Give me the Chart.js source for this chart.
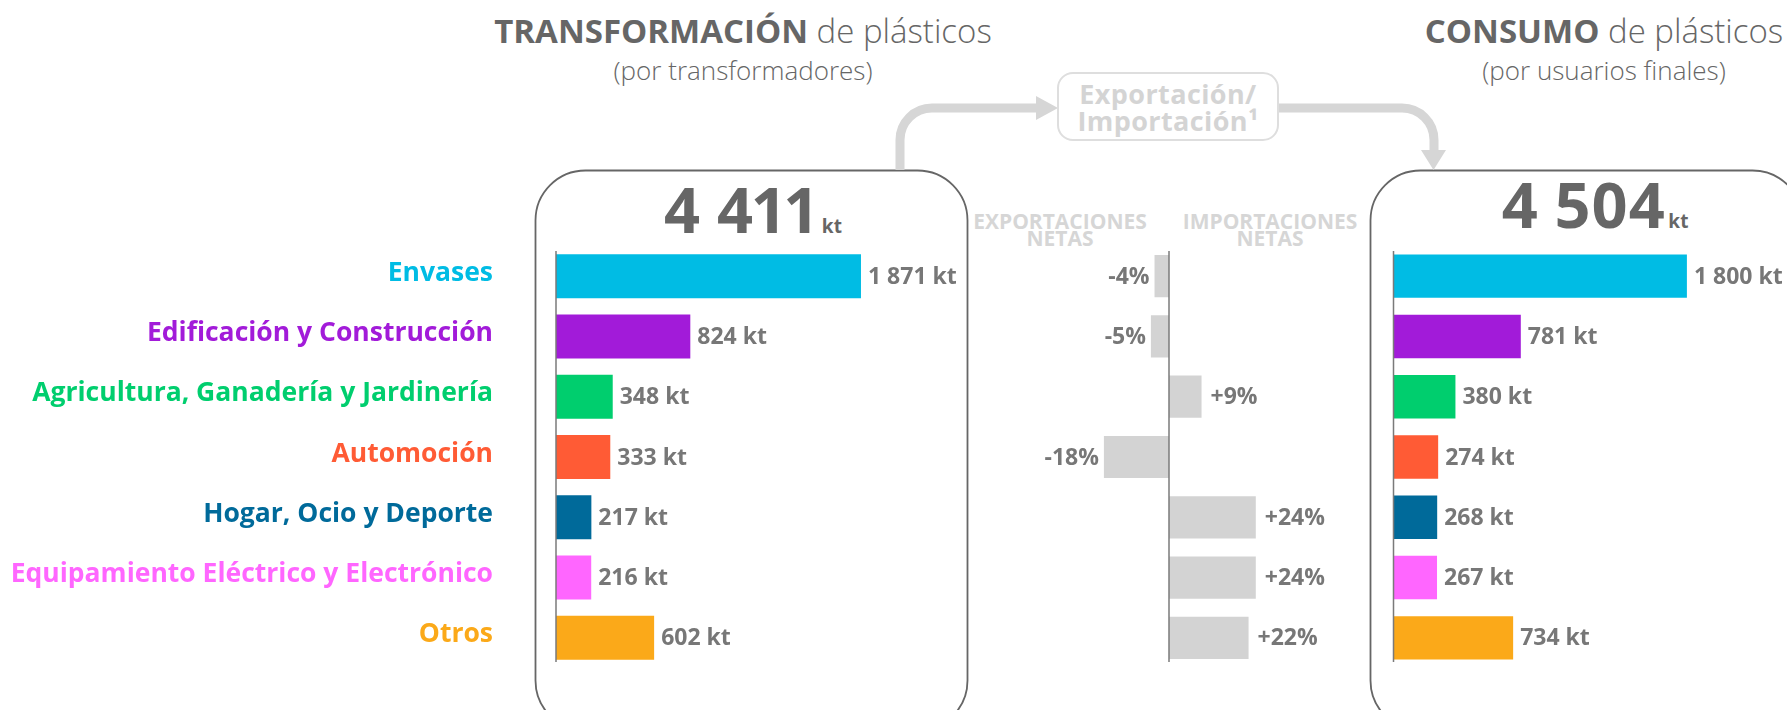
<!DOCTYPE html>
<html lang="es">
<head>
<meta charset="utf-8">
<title>Transformación y consumo de plásticos</title>
<script src="https://cdn.jsdelivr.net/npm/chart.js@4.4.1/dist/chart.umd.min.js"></script>
<style>
  html, body { margin: 0; padding: 0; background: #fff; }
  body { width: 1787px; height: 710px; position: relative; overflow: hidden; font-family: 'Open Sans', sans-serif; color: #666; }
  canvas, svg, .txt { position: absolute; }
  .title { width: 800px; text-align: center; font-size: 33px; line-height: 1; white-space: nowrap; }
  .title b { font-weight: 700; }
  .title span { font-weight: 300; }
  .sub { width: 800px; text-align: center; font-size: 26px; font-weight: 300; line-height: 1; }
  .total { width: 400px; text-align: center; font-size: 63px; font-weight: 700; line-height: 1; color: #666; font-variant-numeric: proportional-nums; }
  .total .unit { font-size: 19px; margin-left: 3px; }
  .head { width: 240px; text-align: center; font-size: 21px; font-weight: 700; line-height: 17px; color: #d6d6d6; }
  .xbox { left: 1057px; top: 72px; width: 218px; height: 65px; border: 2px solid #dedede; border-radius: 16px;
          display: flex; align-items: center; justify-content: center; text-align: center;
          font-size: 27px; font-weight: 700; line-height: 27px; letter-spacing: 0.4px; color: #d4d4d4; background: #fff; }
</style>
</head>
<body>

<svg width="1787" height="710" style="left:0;top:0">
  <rect x="535.5" y="170.5" width="432" height="560" rx="50" fill="none" stroke="#666" stroke-width="1.8"/>
  <rect x="1370.5" y="170.5" width="432" height="560" rx="50" fill="none" stroke="#666" stroke-width="1.8"/>
  <path d="M900,170 V140 A32,32 0 0 1 932,108 H1040" fill="none" stroke="#d6d6d6" stroke-width="9"/>
  <polygon points="1036,96 1058,108 1036,120" fill="#d6d6d6"/>
  <path d="M1277,108 H1402 A32,32 0 0 1 1434,140 V152" fill="none" stroke="#d6d6d6" stroke-width="9"/>
  <polygon points="1421,150 1446,150 1433.5,170" fill="#d6d6d6"/>
</svg>

<div class="txt title" style="left:343px;top:14px"><b>TRANSFORMACIÓN</b> <span>de plásticos</span></div>
<div class="txt sub" style="left:343px;top:57px">(por transformadores)</div>
<div class="txt title" style="left:1204px;top:14px"><b>CONSUMO</b> <span>de plásticos</span></div>
<div class="txt sub" style="left:1204px;top:57px">(por usuarios finales)</div>

<div class="txt xbox">Exportación/<br>Importación¹</div>

<div class="txt head" style="left:940px;top:213px">EXPORTACIONES<br>NETAS</div>
<div class="txt head" style="left:1150px;top:213px">IMPORTACIONES<br>NETAS</div>

<div class="txt total" id="totalLeft" style="left:553px;top:177px"></div>
<div class="txt total" id="totalRight" style="left:1395px;top:172px"></div>

<canvas id="chartLeft" width="970" height="710" style="left:0;top:0"></canvas>
<canvas id="chartMid" width="400" height="710" style="left:970px;top:0"></canvas>
<canvas id="chartRight" width="417" height="710" style="left:1370px;top:0"></canvas>

<script>
'use strict';

const categories = ['Envases', 'Edificación y Construcción', 'Agricultura, Ganadería y Jardinería', 'Automoción', 'Hogar, Ocio y Deporte', 'Equipamiento Eléctrico y Electrónico', 'Otros'];
const transformacion = [1871, 824, 348, 333, 217, 216, 602];
const consumo = [1800, 781, 380, 274, 268, 267, 734];
const netas = [-4, -5, 9, -18, 24, 24, 22];
const sectorColors = ['#00bce4', '#a21bd9', '#00ce6e', '#ff5b35', '#006a9a', '#ff66ff', '#fba919'];
const netColor = '#d3d3d3';

const FONT = 'Open Sans';

function spaced(n) {
  return String(n).replace(/\B(?=(\d{3})+(?!\d))/g, ' ');
}
function fmtKt(v) {
  return spaced(v) + ' kt';
}
function fmtPct(v) {
  return (v > 0 ? '+' : '') + v + '%';
}

// value labels next to the bars + the zero line
function barLabels(format, gap, gapNeg) {
  return {
    id: 'barLabels',
    afterDatasetsDraw(chart) {
      const ctx = chart.ctx;
      const meta = chart.getDatasetMeta(0);
      const data = chart.data.datasets[0].data;
      const area = chart.chartArea;
      ctx.save();
      ctx.font = '700 23px "' + FONT + '"';
      ctx.fillStyle = '#777';
      ctx.textBaseline = 'middle';
      meta.data.forEach((bar, i) => {
        const v = data[i];
        if (v < 0) {
          ctx.textAlign = 'right';
          ctx.fillText(format(v), bar.x - gapNeg, bar.y + 1);
        } else {
          ctx.textAlign = 'left';
          ctx.fillText(format(v), bar.x + gap, bar.y + 1);
        }
      });
      const x0 = chart.scales.x.getPixelForValue(0);
      ctx.strokeStyle = '#7a7a7a';
      ctx.lineWidth = 1.5;
      ctx.beginPath();
      ctx.moveTo(x0, area.top + 5);
      ctx.lineTo(x0, area.bottom - 6);
      ctx.stroke();
      ctx.restore();
    }
  };
}

function baseOptions(padding, xmin, xmax) {
  return {
    indexAxis: 'y',
    responsive: false,
    animation: false,
    layout: { padding: padding },
    plugins: { legend: { display: false }, tooltip: { enabled: false } },
    scales: {
      x: { display: false, min: xmin, max: xmax },
      y: { display: false }
    }
  };
}

// left: transformación
let leftOptions = baseOptions({ top: 246, bottom: 42, right: 88 }, 0, 2000);
leftOptions.scales.y = {
  display: true,
  grid: { display: false, drawTicks: false },
  border: { display: false },
  ticks: {
    color: c => sectorColors[c.index],
    font: { family: FONT, size: 26.5, weight: '700' },
    padding: 63,
    autoSkip: false,
    labelOffset: -3
  },
  afterFit: s => {
    s.width = 556;
    s.paddingTop = 0;
    s.paddingBottom = 0;
  }
};
new Chart(document.getElementById('chartLeft'), {
  type: 'bar',
  data: {
    labels: categories,
    datasets: [{ data: transformacion, backgroundColor: sectorColors, barPercentage: 0.73, categoryPercentage: 1 }]
  },
  options: leftOptions,
  plugins: [barLabels(fmtKt, 7, 0)]
});

// middle: exportaciones / importaciones netas
new Chart(document.getElementById('chartMid'), {
  type: 'bar',
  data: {
    labels: categories,
    datasets: [{ data: netas, backgroundColor: netColor, barPercentage: 0.7, categoryPercentage: 1 }]
  },
  options: baseOptions({ top: 246, bottom: 42, left: 90.5, right: 92.5 }, -30, 30),
  plugins: [barLabels(fmtPct, 9, 5)]
});

// right: consumo
new Chart(document.getElementById('chartRight'), {
  type: 'bar',
  data: {
    labels: categories,
    datasets: [{ data: consumo, backgroundColor: sectorColors, barPercentage: 0.72, categoryPercentage: 1 }]
  },
  options: baseOptions({ top: 246, bottom: 42, left: 23.5, right: 67.5 }, 0, 2000),
  plugins: [barLabels(fmtKt, 7, 0)]
});

const sum = arr => arr.reduce((a, b) => a + b, 0);
document.getElementById('totalLeft').innerHTML = spaced(sum(transformacion)) + '<span class="unit">kt</span>';
document.getElementById('totalRight').innerHTML = spaced(sum(consumo)) + '<span class="unit">kt</span>';
</script>
</body>
</html>
